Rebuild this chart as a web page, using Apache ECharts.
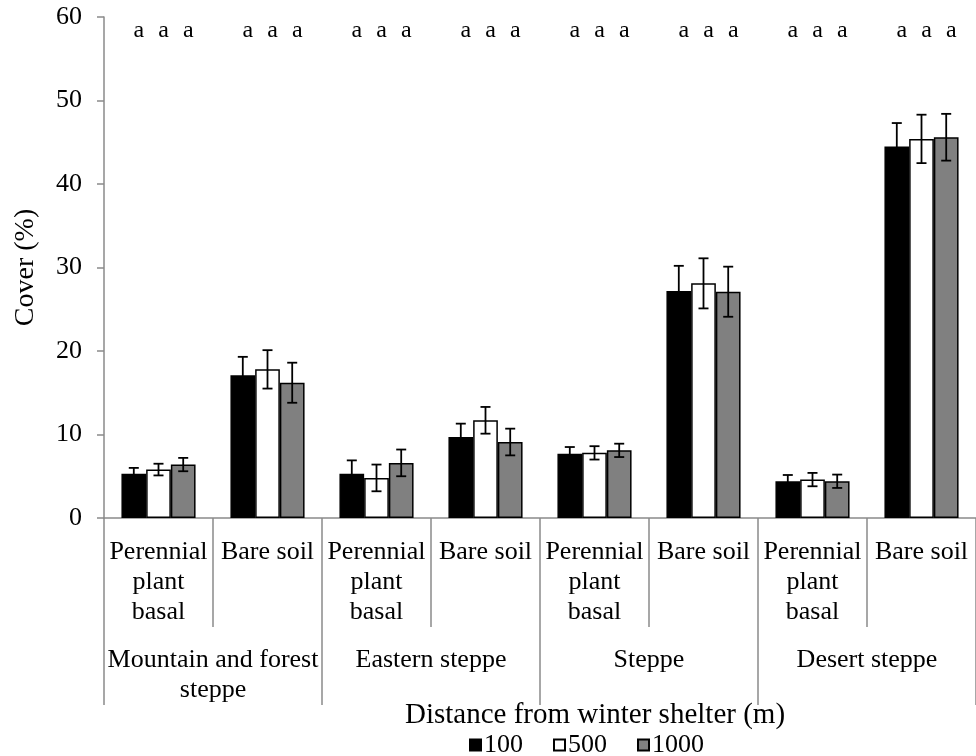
<!DOCTYPE html>
<html>
<head>
<meta charset="utf-8">
<script src="https://cdn.jsdelivr.net/npm/echarts@6/dist/echarts.min.js"></script>
<style>
  html, body { margin: 0; padding: 0; background: #fff; }
  #chart { width: 976px; height: 756px; }
</style>
</head>
<body>
<div id="chart"></div>
<script>
// Cover type (inner category) and vegetation zone (outer category)
const coverTypes = [
  'Perennial\nplant\nbasal', 'Bare soil',
  'Perennial\nplant\nbasal', 'Bare soil',
  'Perennial\nplant\nbasal', 'Bare soil',
  'Perennial\nplant\nbasal', 'Bare soil'
];
const zones = ['Mountain and forest\nsteppe', 'Eastern steppe', 'Steppe', 'Desert steppe'];
const distances = ['100', '500', '1000'];

// Mean cover (%) and standard error at each distance from the winter shelter
const cover100 = [5.3, 17.1, 5.3, 9.7, 7.7, 27.2, 4.4, 44.5];
const err100 = [0.7, 2.2, 1.6, 1.6, 0.8, 3.0, 0.75, 2.8];
const cover500 = [5.8, 17.8, 4.8, 11.7, 7.8, 28.1, 4.6, 45.4];
const err500 = [0.7, 2.3, 1.6, 1.6, 0.8, 3.0, 0.8, 2.9];
const cover1000 = [6.4, 16.2, 6.6, 9.1, 8.1, 27.1, 4.4, 45.6];
const err1000 = [0.8, 2.4, 1.6, 1.6, 0.8, 3.0, 0.8, 2.8];

// Significance letters printed above each bar
const letters100 = ['a', 'a', 'a', 'a', 'a', 'a', 'a', 'a'];
const letters500 = ['a', 'a', 'a', 'a', 'a', 'a', 'a', 'a'];
const letters1000 = ['a', 'a', 'a', 'a', 'a', 'a', 'a', 'a'];
const letterLevel = 58.3;

const FONT = "'Liberation Serif', 'Times New Roman', serif";
const AXIS_GRAY = '#8a8a8a';
const CATEGORY_GAP = 0.32;
const barColors = ['#000000', '#ffffff', '#808080'];

function barSeries(k, values) {
  return {
    type: 'bar',
    name: distances[k],
    data: values,
    barGap: '0%',
    barCategoryGap: (CATEGORY_GAP * 100) + '%',
    itemStyle: { color: barColors[k], borderColor: '#000', borderWidth: 1.5 },
    z: 2
  };
}

// Error bars and letters, positioned on the k-th bar of each category
function errorSeries(k, values, errors, letters) {
  return {
    type: 'custom',
    name: distances[k] + ' SE',
    xAxisIndex: 0,
    yAxisIndex: 0,
    z: 5,
    silent: true,
    data: values.map((v, i) => [i, v, errors[i]]),
    encode: { x: 0, y: 1 },
    renderItem(params, api) {
      const i = api.value(0);
      const v = api.value(1);
      const e = api.value(2);
      const band = api.size([1, 0])[0];
      const barW = band * (1 - CATEGORY_GAP) / 3;
      const cx = api.coord([i, v])[0] + (k - 1) * barW;
      const yTop = api.coord([i, v + e])[1];
      const yBot = api.coord([i, v - e])[1];
      const cap = 5;
      const style = { stroke: '#000', lineWidth: 1.8 };
      return {
        type: 'group',
        children: [
          { type: 'line', shape: { x1: cx, y1: yTop, x2: cx, y2: yBot }, style },
          { type: 'line', shape: { x1: cx - cap, y1: yTop, x2: cx + cap, y2: yTop }, style },
          { type: 'line', shape: { x1: cx - cap, y1: yBot, x2: cx + cap, y2: yBot }, style },
          {
            type: 'text',
            x: cx + 5,
            y: api.coord([i, letterLevel])[1],
            style: {
              text: letters[params.dataIndex],
              fill: '#000',
              font: '24px ' + FONT,
              align: 'center',
              verticalAlign: 'middle'
            }
          }
        ]
      };
    }
  };
}

const chart = echarts.init(document.getElementById('chart'), null, { renderer: 'canvas' });

chart.setOption({
  backgroundColor: '#fff',
  animation: false,
  textStyle: { fontFamily: FONT },
  title: {
    text: 'Distance from winter shelter (m)',
    left: 590,
    top: 696,
    textAlign: 'center',
    textStyle: { fontFamily: FONT, fontSize: 29, fontWeight: 'normal', color: '#000' }
  },
  legend: {
    data: distances,
    left: 464,
    top: 727,
    icon: 'rect',
    itemWidth: 11,
    itemHeight: 11,
    itemGap: 30,
    textStyle: { fontFamily: FONT, fontSize: 26, color: '#000', padding: [0, 0, 0, -2] }
  },
  grid: { left: 104, top: 17, width: 883, height: 501, containLabel: false },
  xAxis: [
    {
      type: 'category',
      position: 'bottom',
      data: coverTypes,
      axisLine: { lineStyle: { color: AXIS_GRAY, width: 1.5 } },
      axisTick: { show: true, length: 109, interval: 0, lineStyle: { color: AXIS_GRAY, width: 1.5 } },
      axisLabel: {
        interval: 0,
        margin: 19,
        fontFamily: FONT,
        fontSize: 26,
        lineHeight: 30,
        color: '#000'
      }
    },
    {
      type: 'category',
      position: 'bottom',
      data: zones,
      axisLine: { show: false },
      axisTick: { show: true, length: 187, interval: 0, lineStyle: { color: AXIS_GRAY, width: 1.5 } },
      axisLabel: {
        interval: 0,
        margin: 127,
        fontFamily: FONT,
        fontSize: 26,
        lineHeight: 30,
        color: '#000'
      }
    }
  ],
  yAxis: {
    type: 'value',
    min: 0,
    max: 60,
    interval: 10,
    name: 'Cover (%)',
    nameLocation: 'middle',
    nameGap: 64,
    nameTextStyle: { fontFamily: FONT, fontSize: 28, color: '#000' },
    axisLine: { show: true, lineStyle: { color: AXIS_GRAY, width: 1.5 } },
    axisTick: { show: true, length: 7, lineStyle: { color: AXIS_GRAY, width: 1.5 } },
    axisLabel: { fontFamily: FONT, fontSize: 26, color: '#000', margin: 22 },
    splitLine: { show: false }
  },
  series: [
    barSeries(0, cover100),
    barSeries(1, cover500),
    barSeries(2, cover1000),
    errorSeries(0, cover100, err100, letters100),
    errorSeries(1, cover500, err500, letters500),
    errorSeries(2, cover1000, err1000, letters1000)
  ]
});
</script>
</body>
</html>
